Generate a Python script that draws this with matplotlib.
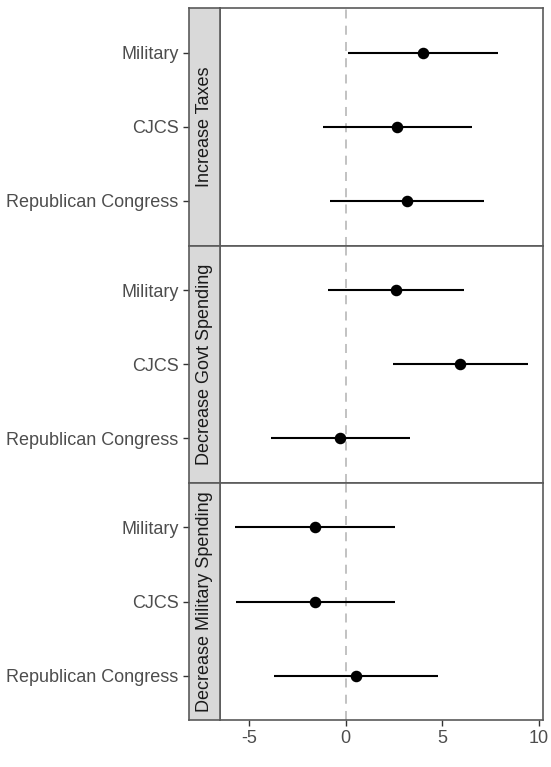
import matplotlib
matplotlib.use("Agg")
import matplotlib.pyplot as plt

plt.rcParams['font.family'] = ['Liberation Sans', 'DejaVu Sans']
plt.rcParams['axes.unicode_minus'] = False

panels = ["Increase Taxes", "Decrease Govt Spending", "Decrease Military Spending"]
actors = ["Military", "CJCS", "Republican Congress"]

est = [
    [3.99, 2.65, 3.18],
    [2.60, 5.93, -0.29],
    [-1.61, -1.58, 0.55],
]
lo = [
    [0.10, -1.18, -0.80],
    [-0.89, 2.46, -3.87],
    [-5.74, -5.69, -3.69],
]
hi = [
    [7.87, 6.51, 7.15],
    [6.12, 9.42, 3.32],
    [2.56, 2.56, 4.79],
]
xticks = [-5, 0, 5, 10]

W, H = 551, 767
fig = plt.figure(figsize=(W / 100, H / 100), dpi=100)

px_left, px_right = 220, 542.5
strip_left = 189
tops = [8, 245.5, 483]
bots = [245.5, 483, 720]

xmin = min(min(r) for r in lo)
xmax = max(max(r) for r in hi)
pad = 0.05 * (xmax - xmin)
xlim = (xmin - pad, xmax + pad)

border = "#5A5A5A"
tickc = "#333333"
for i, name in enumerate(panels):
    b = (H - bots[i]) / H
    h = (bots[i] - tops[i]) / H
    ax = fig.add_axes([px_left / W, b, (px_right - px_left) / W, h])
    sax = fig.add_axes([strip_left / W, b, (px_left - strip_left) / W, h])
    ypos = list(range(len(actors)))
    ax.axvline(0, color="#BDBDBD", lw=1.3, ls=(0, (5, 4)), zorder=1)
    ax.hlines(ypos, lo[i], hi[i], color="black", lw=1.5, zorder=2)
    ax.plot(est[i], ypos, "o", color="black", ms=7.3, zorder=3)
    ax.set_xlim(*xlim)
    ax.set_ylim(len(actors) - 1 + 0.6, -0.6)
    ax.set_yticks([])
    for sp in ax.spines.values():
        sp.set_color(border)
        sp.set_linewidth(1.2)
    ax.set_xticks(xticks)
    if i == len(panels) - 1:
        ax.tick_params(axis="x", length=4, width=1.0, color=tickc,
                       labelsize=13, labelcolor="#4D4D4D", pad=3)
    else:
        ax.tick_params(axis="x", length=0, labelbottom=False)

    sax.set_facecolor("#D9D9D9")
    sax.set_xlim(0, 1)
    sax.set_ylim(len(actors) - 1 + 0.6, -0.6)
    sax.set_xticks([])
    sax.set_yticks(ypos)
    sax.set_yticklabels(actors)
    sax.tick_params(axis="y", length=4.5, width=1.0, color=tickc,
                    labelsize=13, labelcolor="#4D4D4D", pad=3)
    for sp in sax.spines.values():
        sp.set_color(border)
        sp.set_linewidth(1.2)
    sax.text(0.5, 0.5, name, rotation=90, ha="center", va="center",
             fontsize=13, color="#1A1A1A", transform=sax.transAxes)

fig.savefig("out.png", dpi=100)
